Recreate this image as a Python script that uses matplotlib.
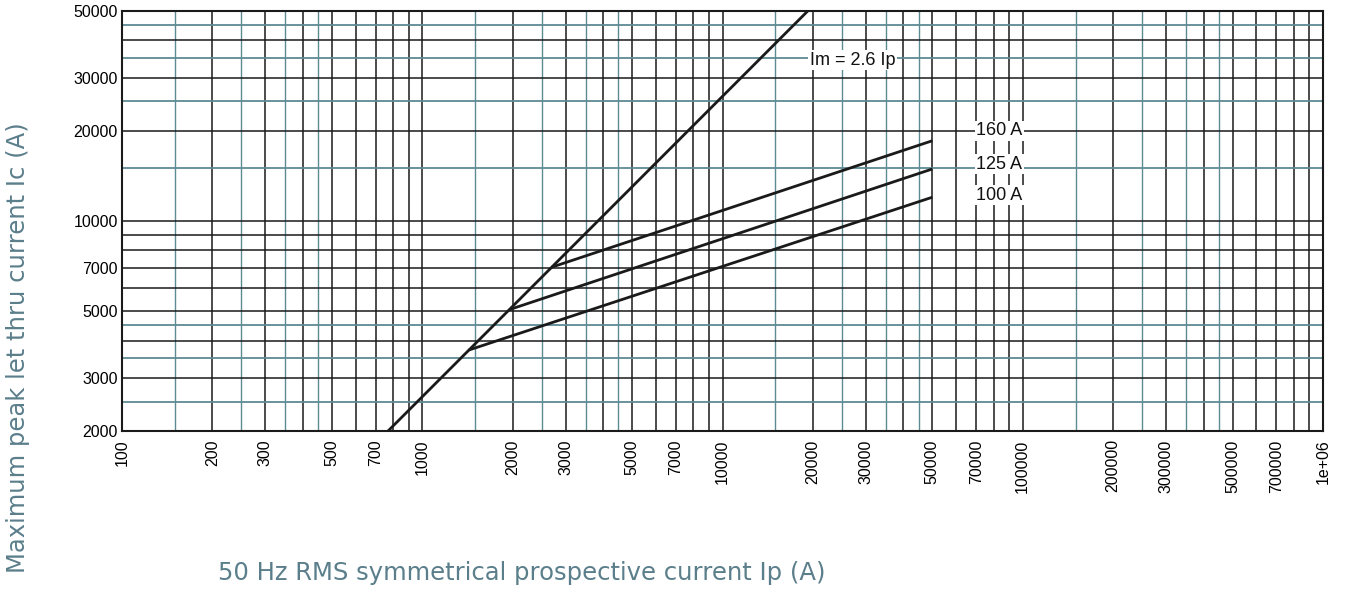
import numpy as np
import matplotlib
matplotlib.use("Agg")
import matplotlib.pyplot as plt

# ---------------------------------------------------------------
# Data
# ---------------------------------------------------------------
x_ticks = [100, 200, 300, 500, 700, 1000, 2000, 3000, 5000, 7000, 10000,
           20000, 30000, 50000, 70000, 100000, 200000, 300000, 500000,
           700000, 1000000]
x_tick_labels = ["100", "200", "300", "500", "700", "1000", "2000", "3000",
                 "5000", "7000", "10000", "20000", "30000", "50000", "70000",
                 "100000", "200000", "300000", "500000", "700000", "1e+06"]
y_ticks = [2000, 3000, 5000, 7000, 10000, 20000, 30000, 50000]
y_tick_labels = ["2000", "3000", "5000", "7000", "10000", "20000", "30000", "50000"]

# grid multipliers inside each decade
dark_steps = [1, 2, 3, 4, 5, 6, 7, 8, 9]
teal_steps = [1.5, 2.5, 3.5, 4.5]

# Im = 2.6 Ip line (two end points)
im_ip = [700, 25000]
im_ic = [1820, 65000]

# fuse let-through lines
fuse_labels = ["160 A", "125 A", "100 A"]
fuse_ip_start = [2700, 1950, 1430]
fuse_ic_start = [7020, 5070, 3720]
fuse_ip_end = [50000, 50000, 50000]
fuse_ic_end = [18500, 14900, 12000]

DARK = "#1a1a1a"
TEAL = "#5e8a93"
LABEL = "#5b7e8b"

fig = plt.figure(figsize=(13.46, 5.94), dpi=100)
ax = fig.add_axes([122 / 1346, 1 - 431 / 594, (1323 - 122) / 1346, 420 / 594])
ax.set_xscale("log")
ax.set_yscale("log")
ax.set_xlim(100, 1e6)
ax.set_ylim(2000, 50000)

#----------------------------------------------------------------
# Grid lines
#----------------------------------------------------------------
for dec in [100, 1000, 10000, 100000]:
    for s in dark_steps:
        ax.axvline(dec * s, color=DARK, lw=1.1, zorder=1)
    for s in teal_steps:
        ax.axvline(dec * s, color=TEAL, lw=1.0, zorder=1)
for dec in [1000, 10000]:
    for s in dark_steps:
        v = dec * s
        if 2000 <= v <= 50000:
            ax.axhline(v, color=DARK, lw=1.1, zorder=1)
    for s in teal_steps:
        v = dec * s
        if 2000 <= v <= 50000:
            ax.axhline(v, color=TEAL, lw=1.3, zorder=1)

#----------------------------------------------------------------
# Curves
#----------------------------------------------------------------
ax.plot(im_ip, im_ic, color=DARK, lw=2.0, zorder=3)
for i in range(len(fuse_labels)):
    ax.plot([fuse_ip_start[i], fuse_ip_end[i]], [fuse_ic_start[i], fuse_ic_end[i]],
            color=DARK, lw=2.0, zorder=3, solid_capstyle="butt")

box = dict(facecolor="white", edgecolor="none", pad=1.0)
ax.text(19500, 34300, "Im = 2.6 Ip", fontsize=13, family="Liberation Sans",
        ha="left", va="center", bbox=box, zorder=4, color="#111111")
label_y = [20000, 15470, 12190]
for i in range(len(fuse_labels)):
    ax.text(70000, label_y[i], fuse_labels[i], fontsize=13, family="Liberation Sans",
            ha="left", va="center", bbox=box, zorder=4, color="#111111")

#----------------------------------------------------------------
# Axes styling
#----------------------------------------------------------------
ax.set_xticks(x_ticks)
ax.set_xticklabels(x_tick_labels, rotation=90, family="Liberation Sans", fontsize=11.5)
ax.set_yticks(y_ticks)
ax.set_yticklabels(y_tick_labels, family="Liberation Sans", fontsize=11.5)
ax.minorticks_off()
ax.tick_params(axis="x", length=0, pad=6)
ax.tick_params(axis="y", length=0, pad=3)
for sp in ax.spines.values():
    sp.set_color(DARK)
    sp.set_linewidth(1.5)
    sp.set_zorder(5)

fig.text(218 / 1346, 1 - 573 / 594, "50 Hz RMS symmetrical prospective current Ip (A)",
         fontsize=17.5, family="DejaVu Sans", color=LABEL, ha="left", va="center")
fig.text(18 / 1346, 1 - 348 / 594, "Maximum peak let thru current Ic (A)",
         fontsize=17.5, family="DejaVu Sans", color=LABEL, ha="center", va="center",
         rotation=90)

plt.savefig("out.png", dpi=100)
plt.close()
